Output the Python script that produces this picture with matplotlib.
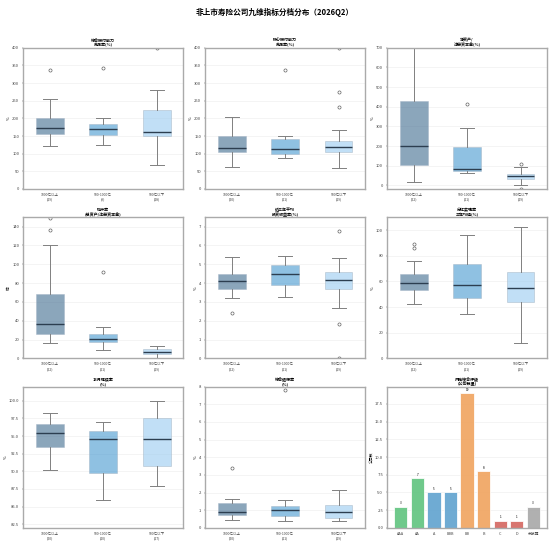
import matplotlib
matplotlib.use('Agg')
import matplotlib.pyplot as plt
import numpy as np

plt.rcParams['font.family'] = ['Noto Sans CJK SC', 'DejaVu Sans']
plt.rcParams['axes.unicode_minus'] = False

# ---- data ----
groups = ['1000亿以上', '500-1000亿', '500亿以下']

# (whislo, q1, med, q3, whishi) per size group
solv_comp = [(122, 155, 174, 200, 255), (125, 152, 169, 185, 200), (69, 150, 162, 223, 280)]
solv_comp_fl = [[338], [344], [400]]
solv_comp_n = [19, 9, 18]

solv_core = [(61, 106, 115, 149, 205), (88, 99, 112, 141, 150), (58, 105, 120, 136, 168)]
solv_core_fl = [[], [336], [231, 274, 400]]
solv_core_n = [20, 11, 19]

net_asset = [(17, 105, 198, 431, 760), (61, 73, 85, 196, 293), (0, 32, 47, 58, 93)]
net_asset_fl = [[], [415], [110, -18]]
net_asset_n = [22, 11, 19]

leverage = [(16.3, 25.5, 36.9, 68.8, 120.6), (9.2, 17.0, 20.6, 25.5, 33.7), (0.7, 4.3, 6.7, 9.9, 13.5)]
leverage_fl = [[136, 149.6], [91.5], []]
leverage_n = [22, 11, 19]

invest_ret = [(3.21, 3.69, 4.11, 4.50, 5.41), (3.24, 3.88, 4.50, 4.98, 5.44), (2.70, 3.71, 4.15, 4.61, 5.34)]
invest_ret_fl = [[2.43], [], [6.76, 1.83, 0.02]]
invest_ret_n = [22, 11, 19]

dividend = [(42.0, 53.0, 58.7, 65.5, 75.8), (34.8, 47.0, 57.4, 73.8, 96.4), (11.7, 44.2, 54.8, 67.5, 102.0)]
dividend_fl = [[86.2, 88.8], [], []]
dividend_n = [22, 11, 19]

persist13 = [(90.14, 93.4, 95.47, 96.75, 98.25), (86.0, 89.8, 94.62, 95.75, 96.93), (87.88, 90.75, 94.58, 97.55, 100.0)]
persist13_fl = [[], [], []]
persist13_n = [20, 10, 17]

surrender = [(0.45, 0.73, 0.90, 1.39, 1.64), (0.36, 0.68, 1.00, 1.24, 1.58), (0.38, 0.58, 0.87, 1.32, 2.15)]
surrender_fl = [[3.37], [7.8], []]
surrender_n = [20, 11, 19]

rating_cats = ['AAA', 'AA', 'A', 'BBB', 'BB', 'B', 'C', 'D', '未披露']
rating_counts = [3, 7, 5, 5, 19, 8, 1, 1, 3]

# ---- style ----
box_colors = ['#3e6b8f', '#4498d0', '#99cbf0']
bar_colors = ['#5fc47f', '#5fc47f', '#5fa2cf', '#5fa2cf', '#f0a35e', '#f0a35e',
              '#d4665f', '#d4665f', '#a8a8a8']

panels = [
    ('综合偿付能力\n充足率(%)', solv_comp, solv_comp_fl, solv_comp_n, '%', (0, 400)),
    ('核心偿付能力\n充足率(%)', solv_core, solv_core_fl, solv_core_n, '%', (0, 400)),
    ('净资产/\n注册资本金(%)', net_asset, net_asset_fl, net_asset_n, '%', (-18, 700)),
    ('杠杆率\n(总资产/注册资本金)', leverage, leverage_fl, leverage_n, '倍', (0, 150)),
    ('近三年平均\n投资收益率(%)', invest_ret, invest_ret_fl, invest_ret_n, '%', (0, 7.5)),
    ('分红实现率\n三年均值(%)', dividend, dividend_fl, dividend_n, '%', (0, 110)),
    ('13月继续率\n(%)', persist13, persist13_fl, persist13_n, '%', (82, 102)),
    ('综合退保率\n(%)', surrender, surrender_fl, surrender_n, '%', (0, 8)),
]

fig, axes = plt.subplots(3, 3, figsize=(11, 10.86), dpi=50)
fig.subplots_adjust(left=0.042, right=0.995, top=0.912, bottom=0.028, wspace=0.135, hspace=0.2)
fig.suptitle('非上市寿险公司九维指标分档分布（2026Q2）', fontsize=11, fontweight='bold', y=0.985)


def style_ax(ax):
    for s in ax.spines.values():
        s.set_edgecolor('#aaaaaa')
        s.set_linewidth(2.0)
    ax.yaxis.grid(True, color='#eeeeee', linewidth=0.9)
    ax.set_axisbelow(True)
    ax.tick_params(labelsize=6, length=2, width=0.6, colors='#444444')


for ax, (title, stats5, fliers, ns, ylab, ylim) in zip(axes.flat, panels):
    stats = []
    for (lo, q1, med, q3, hi), fl in zip(stats5, fliers):
        stats.append(dict(whislo=lo, q1=q1, med=med, q3=q3, whishi=hi, fliers=fl))
    bp = ax.bxp(stats, positions=[1, 2, 3], widths=0.52, patch_artist=True,
                boxprops=dict(edgecolor='#a8b8c8', linewidth=1.2),
                whiskerprops=dict(color='#808080', linewidth=1.4),
                capprops=dict(color='#808080', linewidth=1.4),
                medianprops=dict(color='#2c3e50', linewidth=2.0),
                flierprops=dict(marker='o', markerfacecolor='none', markeredgecolor='#555555',
                                markersize=4.5, markeredgewidth=0.9))
    for patch, c in zip(bp['boxes'], box_colors):
        patch.set_facecolor(c)
        patch.set_alpha(0.6)
    ax.set_xlim(0.5, 3.5)
    ax.set_ylim(*ylim)
    ax.set_xticks([1, 2, 3])
    ax.set_xticklabels([f'{g}\n({n})' for g, n in zip(groups, ns)])
    ax.set_title(title, fontsize=5.8, fontweight='bold', pad=2, linespacing=1.0)
    ax.set_ylabel(ylab, fontsize=5.5, labelpad=2)
    style_ax(ax)
    ax.tick_params(axis='x', labelsize=5)

# rating bars
ax = axes[2, 2]
xs = np.arange(len(rating_cats))
bars = ax.bar(xs, rating_counts, width=0.8, color=bar_colors, alpha=0.9,
              edgecolor='white', linewidth=1.2)
for x, v in zip(xs, rating_counts):
    ax.text(x, v + 0.2, str(v), ha='center', va='bottom', fontsize=4.5)
ax.set_xticks(xs)
ax.set_xticklabels(rating_cats)
ax.set_title('风险综合评级\n(公司数量)', fontsize=5.8, fontweight='bold', pad=2, linespacing=1.0)
ax.set_ylabel('公司数', fontsize=5.5, labelpad=2)
style_ax(ax)
ax.tick_params(axis='x', labelsize=5.5)

fig.savefig('out.png', dpi=50)
